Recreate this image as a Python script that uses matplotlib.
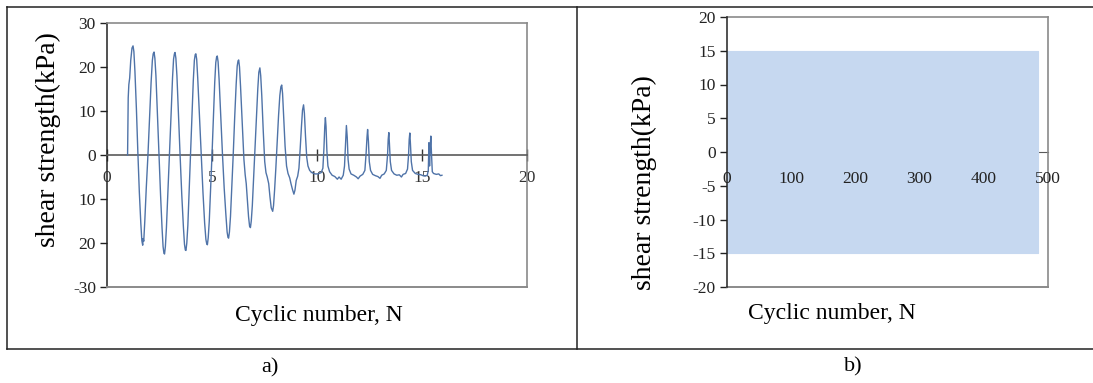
import numpy as np
import matplotlib
matplotlib.use("Agg")
import matplotlib.pyplot as plt
from matplotlib.lines import Line2D

plt.rcParams['font.family'] = ['Liberation Serif', 'DejaVu Serif']
plt.rcParams['axes.unicode_minus'] = False

# a) measured shear strength vs cyclic number
cyc_n = [0.98, 1.01, 1.04, 1.08, 1.13, 1.19, 1.24, 1.28, 1.33, 1.40, 1.47, 1.54, 1.61, 1.66, 1.70, 1.72, 1.75, 1.80, 1.87, 1.95,
         2.03, 2.10, 2.16, 2.20, 2.24, 2.28, 2.33, 2.40, 2.48, 2.55, 2.62, 2.67, 2.71, 2.74, 2.78, 2.83, 2.90, 2.97,
         3.05, 3.12, 3.17, 3.21, 3.24, 3.28, 3.33, 3.40, 3.48, 3.56, 3.64, 3.69, 3.73, 3.76, 3.80, 3.85, 3.91, 3.98,
         4.05, 4.11, 4.16, 4.20, 4.23, 4.27, 4.32, 4.40, 4.48, 4.57, 4.65, 4.71, 4.75, 4.78, 4.82, 4.87, 4.93, 5.00,
         5.07, 5.13, 5.18, 5.22, 5.25, 5.29, 5.34, 5.42, 5.50, 5.58, 5.66, 5.72, 5.76, 5.79, 5.83, 5.88, 5.94, 6.01,
         6.08, 6.15, 6.20, 6.24, 6.27, 6.31, 6.36, 6.44, 6.52, 6.58, 6.63, 6.69, 6.74, 6.79, 6.83, 6.87, 6.92, 6.98,
         7.05, 7.12, 7.18, 7.23, 7.28, 7.32, 7.37, 7.44, 7.51, 7.57, 7.63, 7.70, 7.76, 7.82, 7.89, 7.93, 7.98, 8.04,
         8.10, 8.17, 8.23, 8.28, 8.32, 8.36, 8.41, 8.48, 8.55, 8.62, 8.70, 8.76, 8.83, 8.90, 8.95, 9.01, 9.08, 9.14,
         9.20, 9.26, 9.31, 9.36, 9.40, 9.45, 9.51, 9.57, 9.65, 9.75, 9.90, 10.05, 10.20, 10.28, 10.33, 10.37,
         10.40, 10.43, 10.47, 10.52, 10.60, 10.72, 10.85, 10.97, 11.05, 11.15, 11.25, 11.31, 11.36, 11.40,
         11.44, 11.48, 11.53, 11.62, 11.75, 11.88, 11.96, 12.05, 12.18, 12.28, 12.34, 12.38, 12.41,
         12.45, 12.49, 12.55, 12.65, 12.78, 12.90, 13.00, 13.08, 13.20, 13.30, 13.36, 13.39, 13.42,
         13.45, 13.49, 13.55, 13.67, 13.80, 13.92, 14.02, 14.10, 14.22, 14.31, 14.36, 14.39, 14.42,
         14.45, 14.49, 14.55, 14.68, 14.82, 14.95, 15.05, 15.15, 15.25, 15.30, 15.33, 15.36, 15.39, 15.42,
         15.45, 15.49, 15.55, 15.68, 15.80, 15.88, 15.95]
cyc_tau = [0.0, 13.0, 16.0, 17.5, 21.5, 24.3, 24.8, 23.5, 19.0, 10.5, 0.5, -8.5, -15.5, -19.5, -20.5, -19.0, -19.6, -15.0, -7.5, 0.0,
           8.5, 16.5, 21.5, 23.0, 23.4, 22.0, 18.0, 9.5, 0.0, -9.0, -16.5, -20.8, -22.3, -22.5, -20.8, -16.5, -8.5, 0.0,
           9.0, 17.5, 21.8, 23.0, 23.3, 22.0, 18.0, 9.5, 0.0, -9.0, -16.5, -20.3, -21.6, -21.7, -20.0, -16.0, -8.5, 0.0,
           9.0, 17.0, 21.5, 22.8, 23.0, 21.8, 17.5, 9.0, 0.0, -8.5, -15.5, -19.2, -20.2, -20.4, -18.8, -15.0, -8.0, 0.0,
           9.0, 16.5, 21.0, 22.3, 22.5, 21.2, 17.0, 8.5, 0.0, -7.5, -13.5, -17.5, -18.7, -18.9, -17.5, -14.0, -7.5, 0.0,
           8.5, 16.0, 20.2, 21.4, 21.6, 20.0, 15.5, 7.0, -1.0, -4.5, -6.5, -10.5, -14.0, -16.2, -16.5, -15.0, -11.5, -5.5,
           1.0, 8.5, 15.0, 18.8, 19.8, 18.0, 13.5, 5.5, -1.5, -4.0, -5.0, -6.5, -9.5, -12.0, -12.8, -11.5, -8.0, -3.0,
           2.5, 9.0, 13.5, 15.5, 15.9, 14.0, 9.0, 2.0, -2.5, -4.2, -5.2, -6.5, -7.8, -8.9, -8.0, -5.8, -4.8, -3.0,
           1.5, 6.5, 10.2, 11.4, 9.5, 4.5, -0.5, -2.5, -3.5, -4.0, -4.3, -4.3, -4.0, -3.0, 1.5, 6.5,
           8.5, 6.5, 1.0, -2.5, -3.8, -4.6, -4.9, -5.5, -5.0, -5.5, -4.6, -2.5, 2.5, 6.7,
           4.0, -1.0, -3.2, -4.3, -4.6, -5.0, -5.4, -4.8, -4.4, -3.5, 0.5, 4.0, 5.8,
           3.0, -1.5, -3.5, -4.4, -4.7, -4.9, -5.3, -4.6, -4.3, -3.5, 0.0, 3.5, 5.1,
           2.5, -1.5, -3.5, -4.3, -4.6, -4.5, -5.0, -4.4, -4.2, -3.2, 0.0, 3.5, 5.0,
           2.5, -1.5, -3.5, -4.2, -4.4, -4.5, -4.7, -4.8, -4.6, -3.5, 2.8, -2.5, 1.5, 4.3,
           0.5, -3.8, -4.2, -4.4, -4.3, -4.7, -4.6]

xticks_a = [0, 5, 10, 15, 20]
yticks_a = [30, 20, 10, 0, -10, -20, -30]
ylabels_a = ["30", "20", "10", "0", "10", "20", "-30"]

# b) applied cyclic load envelope
load_n = [0, 484]
load_top = [15, 15]
load_bot = [-15, -15]
xticks_b = [0, 100, 200, 300, 400, 500]
yticks_b = [20, 15, 10, 5, 0, -5, -10, -15, -20]

W, H = 1093, 383
fig = plt.figure(figsize=(W / 100, H / 100), dpi=100)

border = "#8a8a8a"
tick_fs = 12.5

def style_axes(ax, ymin):
    for s in ['top', 'right']:
        ax.spines[s].set_color(border)
        ax.spines[s].set_linewidth(1.2)
    ax.spines['left'].set_color("#222222")
    ax.spines['left'].set_linewidth(1.1)
    ax.spines['bottom'].set_position(('data', 0))
    ax.axhline(ymin, color=border, lw=1.4, zorder=2.6, clip_on=False)
    ax.tick_params(axis='y', direction='out', length=5, width=1, colors="#222222", labelsize=tick_fs, pad=3)

# ---- panel a
ax1 = fig.add_axes([107 / W, 1 - 287 / H, 420 / W, 264 / H])
ax1.plot(cyc_n, cyc_tau, color="#4f73a8", lw=1.0, zorder=3)
ax1.set_xlim(0, 20)
ax1.set_ylim(-30, 30)
style_axes(ax1, -30)
ax1.spines['bottom'].set_color("#5a5a5a")
ax1.spines['bottom'].set_linewidth(1.2)
ax1.set_xticks(xticks_a)
ax1.set_yticks(yticks_a)
ax1.set_yticklabels(ylabels_a)
ax1.tick_params(axis='x', direction='inout', length=9, width=1, colors="#333333", labelsize=tick_fs, pad=6)
ax1.set_ylabel("shear strength(kPa)", fontsize=20)
ax1.yaxis.set_label_coords(-0.11, 0.56)

# ---- panel b
ax2 = fig.add_axes([727 / W, 1 - 287 / H, 321 / W, 270 / H])
ax2.fill_between(load_n, load_bot, load_top, color="#c6d8f0", lw=0.8, zorder=3)
ax2.set_xlim(0, 500)
ax2.set_ylim(-20, 20)
style_axes(ax2, -20)
ax2.spines['bottom'].set_color("#5a5a5a")
ax2.spines['bottom'].set_zorder(2)
ax2.spines['left'].set_zorder(4)
ax2.set_xticks(xticks_b)
ax2.set_xticks(xticks_b[-1:], minor=True)
ax2.set_yticks(yticks_b)
ax2.tick_params(axis='x', which='major', length=0, colors="#222222", labelsize=tick_fs, pad=14)
ax2.tick_params(axis='x', which='minor', direction='inout', length=9, width=1, colors="#333333")
ax2.xaxis.set_zorder(3.5)
ax2.set_ylabel("shear strength(kPa)", fontsize=20)
ax2.yaxis.set_label_coords(-0.218, 0.385)

fig.text(319 / W, 1 - 316 / H, "Cyclic number, N", fontsize=17, ha='center', va='center')
fig.text(832 / W, 1 - 313 / H, "Cyclic number, N", fontsize=17, ha='center', va='center')

fig.text(270 / W, 1 - 368 / H, "a)", fontsize=16, ha='center', va='center')
fig.text(853 / W, 1 - 367 / H, "b)", fontsize=16, ha='center', va='center')

# outer frame of the figure pair
fx0, fy0, fy1, fxd = 7 / W, 1 - 349 / H, 1 - 7 / H, 577 / W
for xs, ys in [([fx0, 1], [fy1, fy1]), ([fx0, 1], [fy0, fy0]), ([fx0, fx0], [fy0, fy1]), ([fxd, fxd], [fy0, fy1])]:
    fig.add_artist(Line2D(xs, ys, transform=fig.transFigure, color="#222222", lw=1.1))

fig.savefig("out.png", dpi=100)
